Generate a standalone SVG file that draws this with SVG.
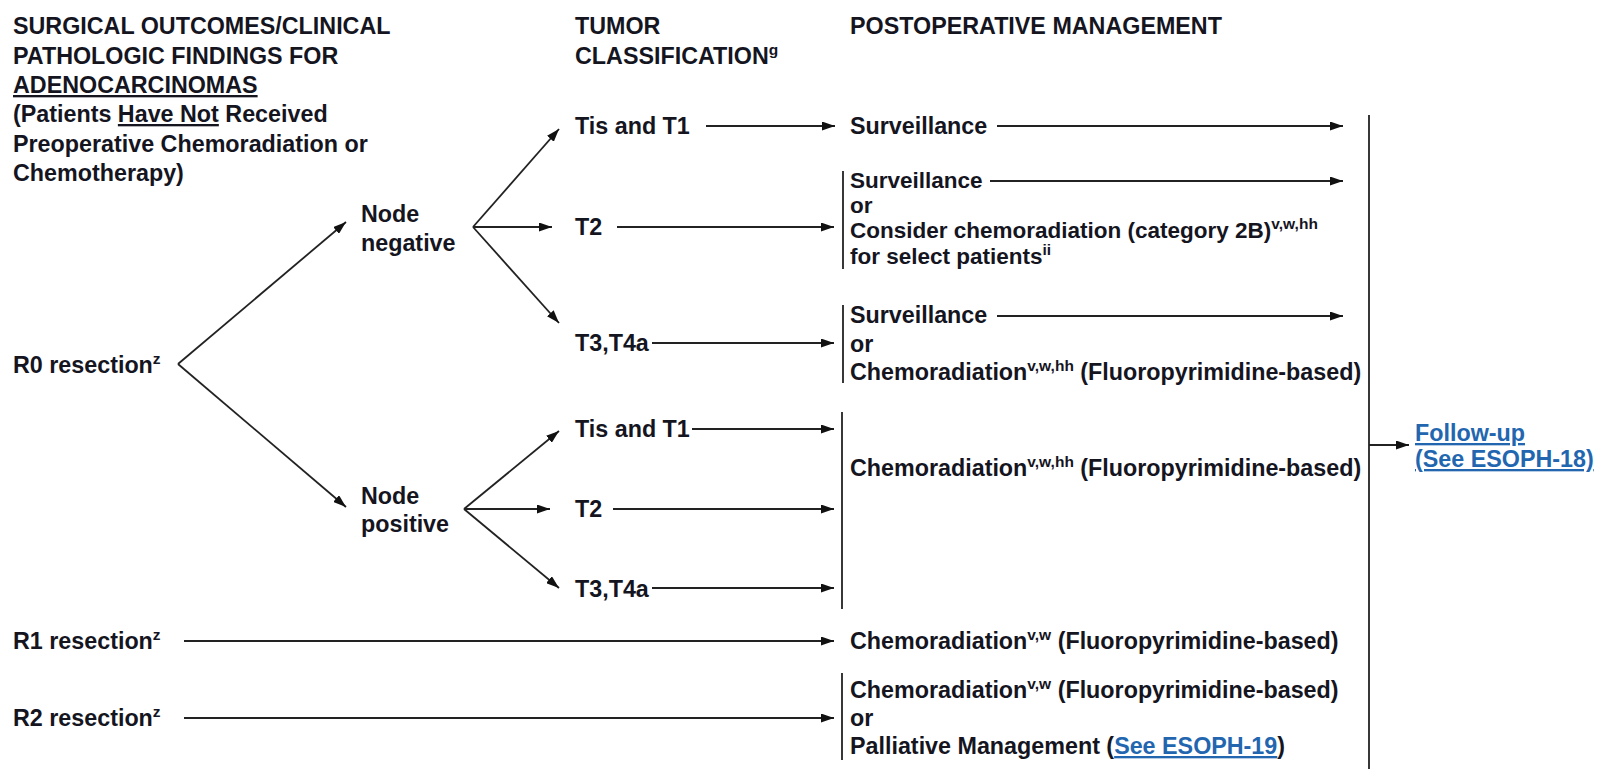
<svg xmlns="http://www.w3.org/2000/svg" width="1598" height="769" viewBox="0 0 1598 769">
<style>
text{font-family:"Liberation Sans",Arial,sans-serif;font-size:23.3px;font-weight:bold;fill:#15151f}
.sm{font-size:22.5px}
.sup{font-size:15.5px}
.u{text-decoration:underline}
.link{fill:#2366b0;text-decoration:underline}
.c line{stroke:#222;stroke-width:1.8;fill:none}
.br{stroke:#222;stroke-width:1.8;fill:none}
</style>
<defs>
<marker id="ah" viewBox="0 0 13 9" refX="13" refY="4.5" markerWidth="13" markerHeight="9" orient="auto" markerUnits="userSpaceOnUse">
<path d="M0,0 L13,4.5 L0,9 z" fill="#111"/>
</marker>
</defs>

<g id="header-surgical">
<text x="13" y="34">SURGICAL OUTCOMES/CLINICAL</text>
<text x="13" y="63.5">PATHOLOGIC FINDINGS FOR</text>
<text x="13" y="93"><tspan class="u">ADENOCARCINOMAS</tspan></text>
<text x="13" y="122">(Patients <tspan class="u">Have Not</tspan> Received</text>
<text x="13" y="151.5">Preoperative Chemoradiation or</text>
<text x="13" y="180.5">Chemotherapy)</text>
</g>
<g id="header-tumor">
<text x="575" y="34">TUMOR</text>
<text x="575" y="63.5">CLASSIFICATION<tspan class="sup" dy="-9">g</tspan></text>
</g>
<g id="header-postop">
<text x="850" y="34">POSTOPERATIVE MANAGEMENT</text>
</g>

<g id="r0"><text x="13" y="373">R0 resection<tspan class="sup" dy="-9">z</tspan></text></g>
<g id="node-neg"><text x="361" y="222">Node</text><text x="361" y="251">negative</text></g>
<g id="node-pos"><text x="361" y="504">Node</text><text x="361" y="532">positive</text></g>

<g id="nn-t1"><text x="575" y="134">Tis and T1</text></g>
<g id="nn-t2"><text x="575" y="235">T2</text></g>
<g id="nn-t3"><text x="575" y="351">T3,T4a</text></g>
<g id="np-t1"><text x="575" y="437">Tis and T1</text></g>
<g id="np-t2"><text x="575" y="517">T2</text></g>
<g id="np-t3"><text x="575" y="597">T3,T4a</text></g>

<g id="r1"><text x="13" y="649">R1 resection<tspan class="sup" dy="-9">z</tspan></text></g>
<g id="r2"><text x="13" y="726">R2 resection<tspan class="sup" dy="-9">z</tspan></text></g>

<g id="mgmt-1"><text x="850" y="134">Surveillance</text></g>
<g id="mgmt-2">
<path class="br" d="M843,171 V269"/>
<text class="sm" x="850" y="188">Surveillance</text>
<text class="sm" x="850" y="213.2">or</text>
<text class="sm" x="850" y="238.4">Consider chemoradiation (category 2B)<tspan class="sup" dy="-9">v,w,hh</tspan></text>
<text class="sm" x="850" y="263.6">for select patients<tspan class="sup" dy="-9">ii</tspan></text>
</g>
<g id="mgmt-3">
<path class="br" d="M843,305 V383"/>
<text x="850" y="323">Surveillance</text>
<text x="850" y="352">or</text>
<text x="850" y="380">Chemoradiation<tspan class="sup" dy="-9">v,w,hh</tspan><tspan dy="9"> (Fluoropyrimidine-based)</tspan></text>
</g>
<g id="mgmt-4">
<path class="br" d="M842,412 V609"/>
<text x="850" y="476">Chemoradiation<tspan class="sup" dy="-9">v,w,hh</tspan><tspan dy="9"> (Fluoropyrimidine-based)</tspan></text>
</g>
<g id="mgmt-5">
<text x="850" y="649">Chemoradiation<tspan class="sup" dy="-9">v,w</tspan><tspan dy="9"> (Fluoropyrimidine-based)</tspan></text>
</g>
<g id="mgmt-6">
<path class="br" d="M842,673 V760"/>
<text x="850" y="698">Chemoradiation<tspan class="sup" dy="-9">v,w</tspan><tspan dy="9"> (Fluoropyrimidine-based)</tspan></text>
<text x="850" y="726">or</text>
<text x="850" y="754">Palliative Management (<tspan class="link">See ESOPH-19</tspan>)</text>
</g>
<g id="followup">
<text x="1415" y="441" class="link">Follow-up</text>
<text x="1415" y="467" class="link">(See ESOPH-18)</text>
</g>

<g id="connectors" class="c">
<line x1="178" y1="364" x2="346" y2="222" marker-end="url(#ah)"/>
<line x1="178" y1="364" x2="346" y2="507" marker-end="url(#ah)"/>
<line x1="473" y1="227" x2="559" y2="129" marker-end="url(#ah)"/>
<line x1="473" y1="227" x2="552" y2="227" marker-end="url(#ah)"/>
<line x1="473" y1="227" x2="559" y2="323" marker-end="url(#ah)"/>
<line x1="464" y1="509" x2="559" y2="431" marker-end="url(#ah)"/>
<line x1="464" y1="509" x2="550" y2="509" marker-end="url(#ah)"/>
<line x1="464" y1="509" x2="559" y2="588" marker-end="url(#ah)"/>
<line x1="706" y1="126" x2="835" y2="126" marker-end="url(#ah)"/>
<line x1="617" y1="227" x2="834" y2="227" marker-end="url(#ah)"/>
<line x1="652" y1="343" x2="834" y2="343" marker-end="url(#ah)"/>
<line x1="692" y1="429" x2="834" y2="429" marker-end="url(#ah)"/>
<line x1="613" y1="509" x2="834" y2="509" marker-end="url(#ah)"/>
<line x1="652" y1="588" x2="834" y2="588" marker-end="url(#ah)"/>
<line x1="184" y1="641" x2="834" y2="641" marker-end="url(#ah)"/>
<line x1="184" y1="718" x2="834" y2="718" marker-end="url(#ah)"/>
<line x1="997" y1="126" x2="1343" y2="126" marker-end="url(#ah)"/>
<line x1="990" y1="181" x2="1343" y2="181" marker-end="url(#ah)"/>
<line x1="997" y1="316" x2="1343" y2="316" marker-end="url(#ah)"/>
<line x1="1369" y1="115" x2="1369" y2="769"/>
<line x1="1369" y1="445" x2="1409" y2="445" marker-end="url(#ah)"/>
</g>
</svg>
